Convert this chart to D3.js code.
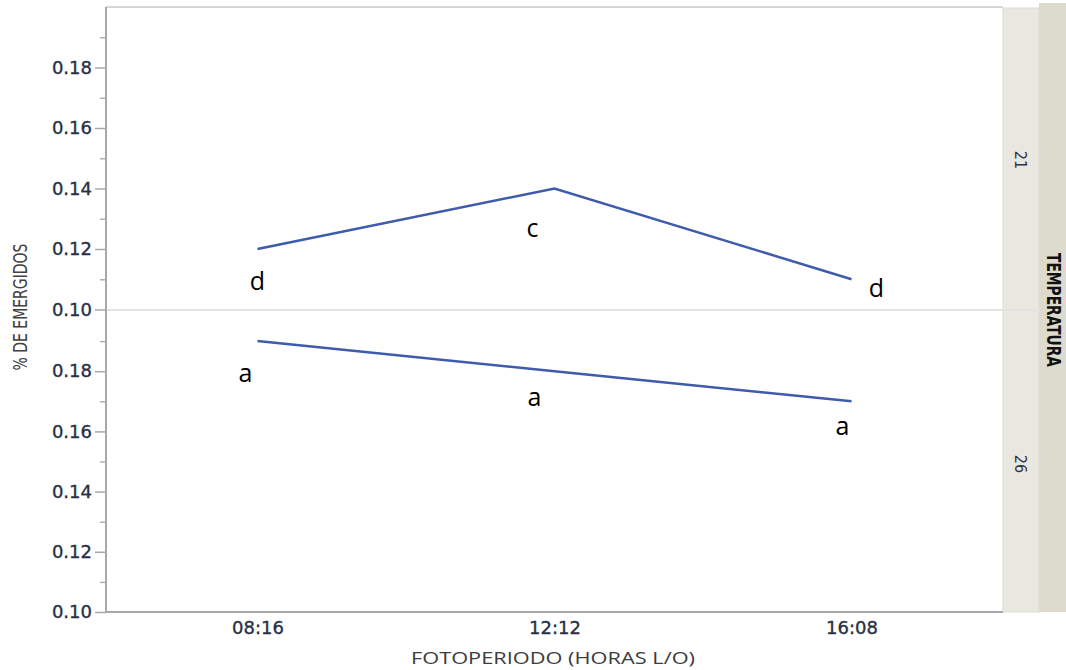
<!DOCTYPE html>
<html>
<head>
<meta charset="utf-8">
<script src="https://cdn.jsdelivr.net/npm/d3@7"></script>
<style>
  body { margin: 0; background: #fff; }
  svg { display: block; }
</style>
</head>
<body>
<svg width="1066" height="670"></svg>
<script>
// fotoperiodo vs % de emergidos, one panel per temperatura
var categories = ["08:16", "12:12", "16:08"];
var panelNames = ["21", "26"];
var values21 = [0.12, 0.14, 0.11];
var values26 = [0.19, 0.18, 0.17];
var letters21 = ["d", "c", "d"];
var letters26 = ["a", "a", "a"];
var yTicks = [0.10, 0.12, 0.14, 0.16, 0.18];
var yMinor = [0.11, 0.13, 0.15, 0.17, 0.19];

var svg = d3.select("svg");
var plotL = 106, plotR = 1003, plotT = 7, plotMid = 310, plotB = 612;
var condensed = "'DejaVu Sans Condensed', 'Liberation Sans Narrow', 'DejaVu Sans', sans-serif";

var x = d3.scalePoint()
    .domain(categories)
    .range([plotL, plotR])
    .padding(0.51);

// label offsets (px) from each point
var offs21 = [[0, 41], [-22, 48], [25, 18]];
var offs26 = [[-12, 41], [-20, 35], [-9, 34]];

var panels = [
    {name: panelNames[0], values: values21, letters: letters21, offs: offs21, labelY: 160,
        y: d3.scaleLinear().domain([0.10, 0.20]).range([plotMid - 0.5, plotT])},
    {name: panelNames[1], values: values26, letters: letters26, offs: offs26, labelY: 464,
        y: d3.scaleLinear().domain([0.10, 0.20]).range([plotB, plotMid + 1])}
];

// strips on the right
svg.append("rect").attr("x", plotR).attr("y", 8).attr("width", 36).attr("height", plotB - 8)
    .attr("fill", "#e9e8e0").attr("stroke", "#dcdbd2").attr("stroke-width", 1);
svg.append("rect").attr("x", plotR + 36).attr("y", 3).attr("width", 1066 - plotR - 36).attr("height", plotB - 3)
    .attr("fill", "#dddbce");

// frame
svg.append("line").attr("x1", plotL).attr("x2", plotR).attr("y1", plotT).attr("y2", plotT)
    .attr("stroke", "#c8c8c8").attr("stroke-width", 1.5);
svg.append("line").attr("x1", plotL).attr("x2", plotR + 37).attr("y1", plotMid).attr("y2", plotMid)
    .attr("stroke", "#e2e2e2").attr("stroke-width", 2);
svg.append("line").attr("x1", plotL).attr("x2", plotL).attr("y1", plotT).attr("y2", plotB + 1)
    .attr("stroke", "#a8a8a8").attr("stroke-width", 2);
svg.append("line").attr("x1", plotL).attr("x2", plotR).attr("y1", plotB).attr("y2", plotB)
    .attr("stroke", "#a8a8a8").attr("stroke-width", 2);

var line = d3.line();

panels.forEach(function (p) {
    var g = svg.append("g");

    var ax = g.append("g").attr("transform", "translate(" + plotL + ",0)")
        .call(d3.axisLeft(p.y).tickValues(yTicks).tickFormat(d3.format(".2f"))
            .tickSize(11).tickPadding(3));
    ax.select(".domain").remove();
    ax.selectAll("line").attr("stroke", "#a8a8a8").attr("stroke-width", 1.5);
    ax.selectAll("text").attr("fill", "#283044")
        .attr("stroke", "#283044").attr("stroke-width", 0.35)
        .style("font-family", "DejaVu Sans").style("font-size", "18px");

    var mn = g.append("g").attr("transform", "translate(" + plotL + ",0)")
        .call(d3.axisLeft(p.y).tickValues(yMinor).tickFormat("").tickSize(6));
    mn.select(".domain").remove();
    mn.selectAll("line").attr("stroke", "#b0b0b0").attr("stroke-width", 1.5);

    var pts = categories.map(function (c, i) {
        return [x(c), p.y(p.values[i])];
    });
    g.append("path").attr("d", line(pts))
        .attr("fill", "none").attr("stroke", "#3e5cab").attr("stroke-width", 2.5);

    g.selectAll(".lbl").data(pts).enter().append("text")
        .attr("x", function (d, i) { return d[0] + p.offs[i][0]; })
        .attr("y", function (d, i) { return d[1] + p.offs[i][1]; })
        .attr("text-anchor", "middle")
        .style("font-family", "Open Sans").style("font-size", "25px")
        .attr("fill", "#000")
        .text(function (d, i) { return p.letters[i]; });

    svg.append("text")
        .attr("transform", "translate(1021," + p.labelY + ") rotate(90)")
        .attr("text-anchor", "middle").attr("dy", "0.35em")
        .style("font-family", condensed).style("font-size", "16px")
        .attr("fill", "#2f3546")
        .text(p.name);
});

// x axis
var xa = svg.append("g").attr("transform", "translate(0," + plotB + ")")
    .call(d3.axisBottom(x).tickSize(0).tickPadding(9));
xa.select(".domain").remove();
xa.selectAll("text").attr("fill", "#283044")
    .attr("stroke", "#283044").attr("stroke-width", 0.35)
    .style("font-family", "DejaVu Sans").style("font-size", "18px");

// titles
svg.append("text").attr("x", 553).attr("y", 664).attr("text-anchor", "middle")
    .attr("textLength", 284).attr("lengthAdjust", "spacingAndGlyphs")
    .style("font-family", "Open Sans").style("font-size", "17px").attr("fill", "#3c3c3c")
    .text("FOTOPERIODO (HORAS L/O)");

svg.append("text").attr("transform", "translate(27,307) rotate(-90)")
    .attr("text-anchor", "middle")
    .attr("textLength", 127).attr("lengthAdjust", "spacingAndGlyphs")
    .style("font-family", condensed).style("font-size", "19px").attr("fill", "#404040")
    .text("% DE EMERGIDOS");

svg.append("text").attr("transform", "translate(1047,310) rotate(90)")
    .attr("text-anchor", "middle")
    .attr("textLength", 114).attr("lengthAdjust", "spacingAndGlyphs")
    .style("font-family", condensed).style("font-size", "19px")
    .style("font-weight", "bold").attr("fill", "#111")
    .text("TEMPERATURA");
</script>
</body>
</html>
